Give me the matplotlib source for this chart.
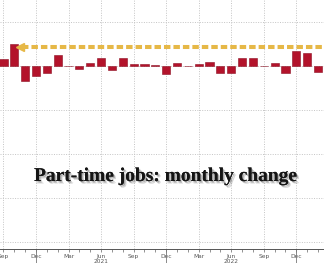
import matplotlib
matplotlib.use('Agg')
import matplotlib.pyplot as plt
import matplotlib.patheffects as pe
import matplotlib.transforms as mtransforms
import numpy as np

# monthly change in part-time jobs (k), Sep 2020 .. Feb 2023
months = ['Sep', 'Oct', 'Nov', 'Dec', 'Jan', 'Feb', 'Mar', 'Apr', 'May', 'Jun', 'Jul', 'Aug',
          'Sep', 'Oct', 'Nov', 'Dec', 'Jan', 'Feb', 'Mar', 'Apr', 'May', 'Jun', 'Jul', 'Aug',
          'Sep', 'Oct', 'Nov', 'Dec', 'Jan', 'Feb']
change = [160, 500, -340, -230, -160, 250, 5, -70, 70, 180,
          -90, 180, 35, 50, 20, -180, 70, -5, 35, 90,
          -160, -160, 180, 190, 5, 70, -160, 340, 300, -140]
tick_idx = [0, 3, 6, 9, 12, 15, 18, 21, 24, 27]
tick_labels = ['Sep', 'Dec', 'Mar', 'Jun\n2021', 'Sep', 'Dec', 'Mar', 'Jun\n2022', 'Sep', 'Dec']
year_marks = [3, 15, 27]
arrow_level = 443
title = 'Part-time jobs: monthly change'

fig = plt.figure(figsize=(3.24, 2.63), dpi=100)
ax = fig.add_axes([0, 14 / 263, 1, 249 / 263])

x = np.arange(len(change))
ax.bar(x, change, width=0.75, color='#B3132B', edgecolor='#8E0F22', linewidth=0.4, zorder=3)

# dashed "highest since" arrow
ax.plot([1.75, 29.8], [arrow_level, arrow_level], color='#E6B847', lw=2.9,
        dashes=(1.6, 0.75), solid_capstyle='butt', zorder=4)
ax.plot([1.55], [arrow_level], marker='<', color='#E6B847', markersize=5.5, zorder=4)

ax.set_xlim(-0.32, 29.55)
ax.set_ylim(-4159, 1500)

ax.set_yticks([1000, 0, -1000, -2000, -3000, -4000])
ax.set_xticks(tick_idx)
ax.set_xticklabels(tick_labels, fontsize=4.2, color='#555555', linespacing=1.1)
ax.set_xticks(x, minor=True)
ax.tick_params(axis='x', which='both', direction='out', length=2, width=0.5,
               color='#666666', pad=1.5)
ax.tick_params(axis='y', left=False, labelleft=False)
ax.grid(True, which='major', color='#c4c4c4', linestyle=(0, (1, 1.5)), linewidth=0.7, zorder=0)

for s in ['top', 'right', 'left']:
    ax.spines[s].set_visible(False)
ax.spines['bottom'].set_color('#555555')
ax.spines['bottom'].set_linewidth(0.7)

# long year separators below the axis
trans = mtransforms.blended_transform_factory(ax.transData, ax.transAxes)
for i in year_marks:
    ax.plot([i, i], [0, -0.07], transform=trans, color='#777777', lw=0.6, clip_on=False)

fig.text(0.512, 1 - 181 / 263, title, ha='center', va='baseline',
         family='Liberation Serif', fontweight='bold', fontsize=14, color='#151515',
         path_effects=[pe.withSimplePatchShadow(offset=(1.8, -1.8), shadow_rgbFace='#888888', alpha=0.35),
                       pe.withSimplePatchShadow(offset=(1, -1), shadow_rgbFace='#666666', alpha=0.4)])

fig.savefig('out.png', dpi=100)
